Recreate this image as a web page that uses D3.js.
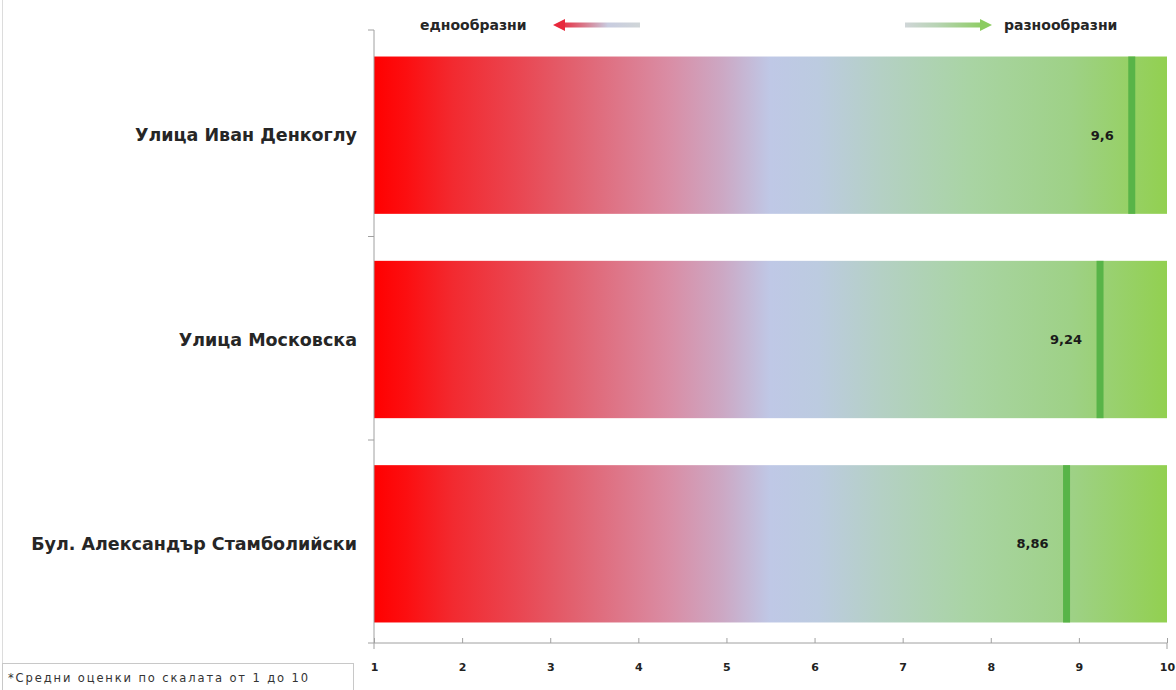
<!DOCTYPE html>
<html><head><meta charset="utf-8">
<script src="https://cdn.jsdelivr.net/npm/d3@7"></script>
<style>
body{margin:0;background:#fff;}
svg{display:block;font-family:"DejaVu Sans",sans-serif;}
</style></head>
<body><svg id="c" width="1176" height="690"></svg>
<script>
const categories = ["Улица Иван Денкоглу", "Улица Московска", "Бул. Александър Стамболийски"];
const values = [9.6, 9.24, 8.86];
const valueLabels = ["9,6", "9,24", "8,86"];
const tickValues = [1,2,3,4,5,6,7,8,9,10];
const legendLeft = "еднообразни";
const legendRight = "разнообразни";
const footnote = "*Средни оценки по скалата от 1 до 10";

const svg = d3.select("#c");
const x = d3.scaleLinear().domain([1,10]).range([374,1167]);
const y = d3.scaleBand().domain(categories).range([32,647]).paddingInner(0.23).paddingOuter(0.12);

const defs = svg.append("defs");
const g = defs.append("linearGradient").attr("id","barGrad").attr("gradientUnits","userSpaceOnUse")
  .attr("x1",x(1)).attr("x2",x(10)).attr("y1",0).attr("y2",0);
[[0,"#ff0000"],[0.04,"#fc0e10"],[0.1,"#f22a30"],[0.18,"#ea4550"],[0.25,"#e2606e"],[0.375,"#d98ea6"],[0.44,"#cca8c4"],[0.5,"#bfc8e6"],[0.56,"#bccbe0"],[0.64,"#b4d0c4"],[0.75,"#a9d4a4"],[0.88,"#9ed186"],[1,"#92d050"]]
 .forEach(([o,c])=>g.append("stop").attr("offset",o).attr("stop-color",c));

const gl = defs.append("linearGradient").attr("id","legL").attr("x1","0").attr("x2","1");
gl.append("stop").attr("offset",0).attr("stop-color","#e8283c");
gl.append("stop").attr("offset",0.3).attr("stop-color","#d9788a");
gl.append("stop").attr("offset",0.6).attr("stop-color","#c8cce0");
gl.append("stop").attr("offset",1).attr("stop-color","#d0d6d8");
const gr = defs.append("linearGradient").attr("id","legR").attr("x1","0").attr("x2","1");
gr.append("stop").attr("offset",0).attr("stop-color","#d0d6d8");
gr.append("stop").attr("offset",0.4).attr("stop-color","#b8d4b4");
gr.append("stop").attr("offset",1).attr("stop-color","#8ccc60");

// left chart border
svg.append("line").attr("x1",2.5).attr("x2",2.5).attr("y1",0).attr("y2",690).attr("stroke","#dcdcdc");

// bars
svg.append("g").selectAll("rect").data(categories).join("rect")
  .attr("x",x(1)).attr("width",x(10)-x(1))
  .attr("y",d=>y(d)).attr("height",y.bandwidth())
  .attr("fill","url(#barGrad)");

// markers
svg.append("g").selectAll("rect").data(values).join("rect")
  .attr("x",d=>x(d)-3.5).attr("width",7)
  .attr("y",(d,i)=>y(categories[i])).attr("height",y.bandwidth())
  .attr("fill","#58b448");

// value labels
svg.append("g").selectAll("text").data(values).join("text")
  .attr("x",d=>x(d)-18).attr("y",(d,i)=>y(categories[i])+y.bandwidth()/2)
  .attr("dy","0.35em").attr("text-anchor","end")
  .attr("font-size",13).attr("font-weight","bold").attr("fill","#1a1a1a")
  .text((d,i)=>valueLabels[i]);

// x axis
const xa = svg.append("g").attr("transform","translate(0,643)")
  .call(d3.axisBottom(x).tickValues(tickValues).tickSize(6).tickPadding(14).tickFormat(d=>String(d)));
xa.select(".domain").attr("stroke","#a0a0a0").attr("d",`M${x(1)},6V0H${x(10)}V6`);
xa.selectAll(".tick line").attr("stroke","#a0a0a0").attr("y1",-5).attr("y2",0);
xa.selectAll(".tick text").attr("font-size",11).attr("font-weight","bold").attr("fill","#222")
  .attr("font-family","DejaVu Sans, sans-serif");

// y axis
const ya = svg.append("g").attr("transform",`translate(${x(1)},0)`);
ya.append("line").attr("x1",0).attr("x2",0).attr("y1",30).attr("y2",643).attr("stroke","#a0a0a0");
ya.selectAll("line.t").data([30,236.5,440,643]).join("line").attr("class","t")
  .attr("x1",-6).attr("x2",0).attr("y1",d=>d).attr("y2",d=>d).attr("stroke","#a0a0a0");
ya.selectAll("text").data(categories).join("text")
  .attr("x",-17).attr("y",d=>y(d)+y.bandwidth()/2).attr("dy","0.35em")
  .attr("text-anchor","end").attr("font-size",17.5).attr("font-weight","bold").attr("fill","#262626")
  .text(d=>d);

// legend
svg.append("text").attr("x",420).attr("y",25).attr("dy","0.35em").attr("font-size",14)
  .attr("font-weight","bold").attr("fill","#262626").text(legendLeft);
svg.append("rect").attr("x",560).attr("y",22.5).attr("width",80).attr("height",5).attr("fill","url(#legL)");
svg.append("path").attr("d","M553,25 L565,19 L565,31 Z").attr("fill","#e8283c");
svg.append("rect").attr("x",905).attr("y",22.5).attr("width",80).attr("height",5).attr("fill","url(#legR)");
svg.append("path").attr("d","M992,25 L980,19 L980,31 Z").attr("fill","#8ccc60");
svg.append("text").attr("x",1004).attr("y",25).attr("dy","0.35em").attr("font-size",14)
  .attr("font-weight","bold").attr("fill","#262626").text(legendRight);

// footnote
svg.append("rect").attr("x",2.5).attr("y",663.5).attr("width",351).attr("height",40)
  .attr("fill","#fff").attr("stroke","#c8c8c8");
svg.append("text").attr("x",8).attr("y",678).attr("dy","0.35em").attr("font-size",11.5)
  .attr("fill","#333").attr("textLength",300).attr("lengthAdjust","spacing").text(footnote);
</script></body></html>
